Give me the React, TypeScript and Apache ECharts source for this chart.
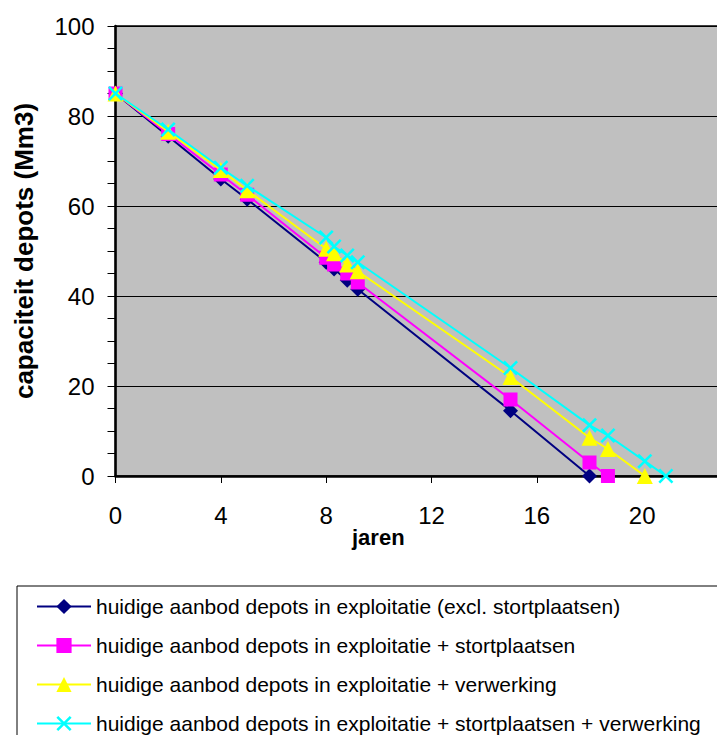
import React, { useEffect, useRef } from "react";
import * as echarts from "echarts";

const years = [0, 2, 4, 5, 8, 8.3, 8.8, 9.2, 15, 18, 18.7, 20.1, 20.9];
const depotsExcl = [85, 75.5, 66, 61.5, 47.5, 46, 43.5, 41.5, 14.5, 0];
const depotsStort = [85, 76, 67, 62.5, 48.5, 47, 45, 43, 17, 3, 0];
const depotsVerw = [85, 76.5, 68, 63.5, 50.5, 49.5, 47, 45.5, 22, 8.5, 6, 0];
const depotsStortVerw = [85, 77, 68.5, 64.5, 53, 51, 49, 47.5, 24, 11.3, 9, 3.3, 0];

const seriesNames = [
  "huidige aanbod depots in exploitatie (excl. stortplaatsen)",
  "huidige aanbod depots in exploitatie + stortplaatsen",
  "huidige aanbod depots in exploitatie + verwerking",
  "huidige aanbod depots in exploitatie + stortplaatsen + verwerking",
];
const seriesValues = [depotsExcl, depotsStort, depotsVerw, depotsStortVerw];
const seriesColors = ["#000080", "#FF00FF", "#FFFF00", "#00FFFF"];
const crossSymbol =
  "path://M0,1.2L1.2,0L5,3.8L8.8,0L10,1.2L6.2,5L10,8.8L8.8,10L5,6.2L1.2,10L0,8.8L3.8,5Z";
const seriesSymbols = ["diamond", "rect", "triangle", crossSymbol];
const seriesSymbolSizes = [15, 14, 16, 15];

const FONT = "'Liberation Sans', Arial, Helvetica, sans-serif";

export default function App() {
  const ref = useRef<HTMLDivElement>(null);
  useEffect(() => {
    if (!ref.current) return;
    const chart = echarts.init(ref.current, null, { renderer: "svg" });
    chart.setOption({
      animation: false,
      backgroundColor: "#ffffff",
      grid: {
        left: 115.5,
        top: 26,
        width: 632,
        height: 450,
        show: true,
        backgroundColor: "#C0C0C0",
        borderColor: "#000000",
        borderWidth: 1.5,
      },
      xAxis: {
        type: "value",
        min: 0,
        max: 24,
        interval: 4,
        axisLine: { show: true, onZero: false, lineStyle: { color: "#000", width: 2.5 } },
        axisTick: { show: true, inside: false, length: 7, lineStyle: { color: "#000", width: 1 } },
        axisLabel: {
          color: "#000",
          fontSize: 24,
          fontFamily: FONT,
          margin: 27,
          showMaxLabel: false,
        },
        splitLine: { show: false },
      },
      yAxis: {
        type: "value",
        min: 0,
        max: 100,
        interval: 20,
        name: "capaciteit depots (Mm3)",
        nameLocation: "middle",
        nameGap: 79,
        nameTextStyle: { color: "#000", fontSize: 26, fontWeight: "bold", fontFamily: FONT },
        axisLine: { show: true, lineStyle: { color: "#000", width: 2.5 } },
        axisTick: { show: true, inside: false, length: 8, lineStyle: { color: "#000", width: 1 } },
        minorTick: { show: true, splitNumber: 4, length: 8, lineStyle: { color: "#000", width: 1 } },
        axisLabel: { color: "#000", fontSize: 24, fontFamily: FONT, margin: 21 },
        splitLine: { show: true, lineStyle: { color: "#000", width: 1 } },
      },
      legend: {
        orient: "vertical",
        left: 17,
        top: 586,
        padding: [10, 60, 30, 19],
        itemWidth: 54,
        itemHeight: 19,
        itemGap: 18,
        borderColor: "#000",
        borderWidth: 1,
        backgroundColor: "#fff",
        textStyle: { color: "#000", fontSize: 21, fontFamily: FONT, lineHeight: 21 },
        data: seriesNames,
      },
      graphic: [
        {
          type: "text",
          left: 352,
          top: 526,
          style: { text: "jaren", fill: "#000", font: `bold 22px ${FONT}` },
        },
      ],
      series: seriesNames.map((name, i) => ({
        name,
        type: "line",
        data: seriesValues[i].map((v, j) => [years[j], v]),
        symbol: seriesSymbols[i],
        symbolSize: seriesSymbolSizes[i],
        showAllSymbol: true,
        lineStyle: { color: seriesColors[i], width: 2 },
        itemStyle: { color: seriesColors[i] },
        emphasis: { disabled: true },
        z: 2 + i,
      })),
    });
    return () => chart.dispose();
  }, []);
  return (
    <div
      style={{
        position: "absolute",
        left: 0,
        top: 0,
        width: 717,
        height: 735,
        overflow: "hidden",
        background: "#fff",
      }}
    >
      <div ref={ref} style={{ width: 800, height: 800 }} />
    </div>
  );
}
